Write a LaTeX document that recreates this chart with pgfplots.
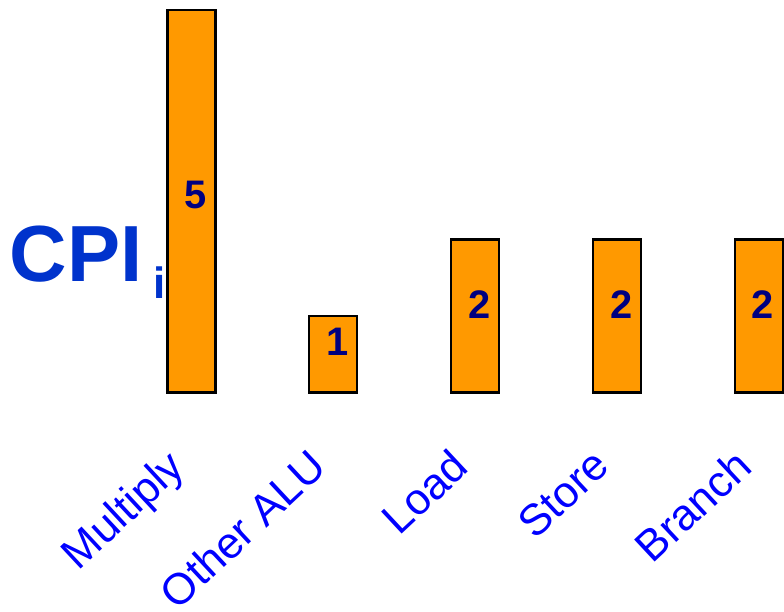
\documentclass[border=0pt]{standalone}
\usepackage{fontspec}
\setmainfont{Liberation Sans}
\usepackage{pgfplots}
\pgfplotsset{compat=1.18}
\definecolor{barorange}{HTML}{FF9900}
\definecolor{cpiblue}{HTML}{0033CC}
\definecolor{ticklab}{HTML}{0000FF}
\definecolor{valnavy}{HTML}{000080}
\begin{document}
\begin{tikzpicture}
\begin{axis}[
  scale only axis, width=616.5bp, height=393bp,
  xmin=-0.169, xmax=4.1725, ymin=0, ymax=5.1305,
  axis line style={draw=none}, tick style={draw=none},
  ytick=\empty, xtick={0,1,2,3,4},
  xticklabels={Multiply,Other ALU,Load,Store,Branch},
  xticklabel style={xshift=-26bp, yshift=-54bp, rotate=43, anchor=north east, inner sep=0pt,
    font=\fontsize{44}{44}\selectfont, text=ticklab},
  clip=false,
]
\addplot[ybar, bar width=48bp, fill=barorange, draw=black, line width=2.5bp]
  coordinates {(0,5) (1,1) (2,2) (3,2) (4,2)};
\addplot[draw=none, mark=none, nodes near coords, point meta=explicit symbolic,
  nodes near coords style={anchor=center, inner sep=0pt, text=valnavy,
    font=\fontsize{40}{40}\selectfont\bfseries}]
  coordinates {(0.03,2.585)[5] (1.03,0.666)[1] (2.03,1.15)[2] (3.03,1.15)[2] (4.03,1.15)[2]};
\node[anchor=base west, inner sep=0pt, text=cpiblue, font=\fontsize{80}{80}\selectfont\bfseries]
  at ([xshift=-158bp, yshift=111bp]rel axis cs:0,0) {CPI};
\node[anchor=base west, inner sep=0pt, text=cpiblue, font=\fontsize{44}{44}\selectfont\bfseries]
  at ([xshift=-14bp, yshift=94bp]rel axis cs:0,0) {i};
\coordinate (A) at (rel axis cs:0,0);
\end{axis}
\path ([xshift=-167.5bp, yshift=393bp]A) rectangle ([xshift=616.5bp, yshift=-218bp]A);
\end{tikzpicture}
\end{document}
